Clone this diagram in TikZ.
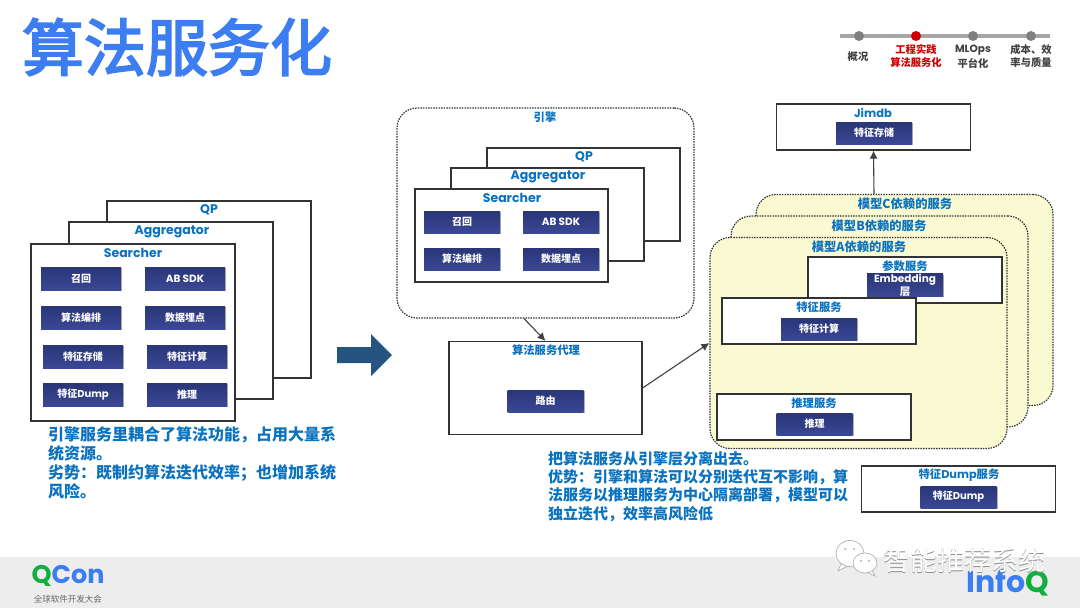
\documentclass[tikz,border=0pt]{standalone}
\usepackage{fontspec}
\usetikzlibrary{shadows,arrows.meta}
\setmainfont{Noto Sans CJK SC}
\newfontfamily\lat{Poppins}
\newfontfamily\titlefont{Noto Sans CJK SC}[FakeBold=3]
\definecolor{qblue}{HTML}{3C7DF2}
\definecolor{qgreen}{HTML}{12AE3F}
\definecolor{labblue}{HTML}{0A72BE}
\definecolor{navyup}{HTML}{2A3678}
\definecolor{navydown}{HTML}{3A4794}
\definecolor{modelfill}{HTML}{FAFAD2}
\definecolor{arrowblue}{HTML}{24547F}
\tikzset{
    boxline/.style={draw=black!80,fill=white,line width=1.2pt,inner sep=0pt},
    bigstack/.style={boxline,minimum width=204pt,minimum height=177pt},
    smallstack/.style={boxline,minimum width=193pt,minimum height=93pt},
    srvbox/.style={boxline,minimum width=194pt,minimum height=46pt},
    dotbox/.style={draw=black!80,line width=1.2pt,dash pattern=on 1.5pt off 1.1pt,rounded corners=20pt,inner sep=0pt},
    modelbox/.style={dotbox,fill=modelfill,minimum width=297pt,minimum height=211pt},
    btn/.style={top color=navyup,bottom color=navydown,text=white,inner sep=0pt,align=center,
        font=\bfseries\fontsize{10}{13}\selectfont,minimum width=76pt,minimum height=22pt,
        drop shadow={shadow xshift=1pt,shadow yshift=-1pt,fill=black,opacity=.3}},
    bigbtn/.style={btn,minimum width=80pt,minimum height=23pt},
    lab/.style={text=labblue,inner sep=0pt,font=\bfseries\fontsize{11.3}{13}\selectfont},
    latlab/.style={lab,font=\lat\bfseries\fontsize{12.5}{14}\selectfont},
    modellab/.style={lab,font=\bfseries\fontsize{12.3}{14}\selectfont},
    para/.style={text=labblue,inner sep=0pt,anchor=north west,align=left},
    navtext/.style={inner sep=0pt,text=black!75,font=\bfseries\fontsize{10.3}{11}\selectfont},
    navdot/.style={circle,fill=black!50,minimum size=10pt,inner sep=0pt},
    conn/.style={draw=black!75,line width=1.1pt,-{Latex[length=8pt,width=8pt]}},
}
\begin{document}
\begin{tikzpicture}[x=1pt,y=-1pt]
    \useasboundingbox (0,0) rectangle (1080,608);
    \fill[black!7] (0,557) rectangle (1080,608);

    \node[text=qblue,inner sep=0pt,font=\titlefont\fontsize{62}{62}\selectfont] (title) at (177,47) {算法服务化};

    \draw[black!35,line width=4.5pt] (840,36) -- (1050,36);
    \node[navdot] (nav1) at (859,36) {};
    \node[navdot,fill=red!80!black] (nav2) at (916,36) {};
    \node[navdot] (nav3) at (973,36) {};
    \node[navdot] (nav4) at (1031,36) {};
    \node[navtext] (navt1) at (858,57) {概况};
    \node[navtext,text=red!80!black] (navt2) at (916,50) {工程实践};
    \node[navtext,text=red!80!black] (navt3) at (916,63) {算法服务化};
    \node[navtext,font=\lat\bfseries\fontsize{10.5}{11}\selectfont] (navt4) at (973,50) {MLOps};
    \node[navtext] (navt5) at (973,63) {平台化};
    \node[navtext] (navt6) at (1031,50) {成本、效};
    \node[navtext] (navt7) at (1031,63) {率与质量};

    \node[bigstack] (lqp) at (209,289.5) {};
    \node[latlab] (lqpt) at (209,209.5) {QP};
    \node[bigstack] (lagg) at (171,310.5) {};
    \node[latlab] (laggt) at (172,231.5) {Aggregator};
    \node[bigstack] (lsea) at (133,332.5) {};
    \node[latlab] (lseat) at (133,253) {Searcher};
    \node[bigbtn] (lb1) at (81,278.5) {召回};
    \node[bigbtn,font=\lat\bfseries\fontsize{10.5}{11}\selectfont] (lb2) at (185,278.5) {AB SDK};
    \node[bigbtn] (lb3) at (81,317.5) {算法编排};
    \node[bigbtn] (lb4) at (185,317.5) {数据埋点};
    \node[bigbtn] (lb5) at (83,356.5) {特征存储};
    \node[bigbtn] (lb6) at (187,356.5) {特征计算};
    \node[bigbtn] (lb7) at (83,394.5) {特征{\lat Dump}};
    \node[bigbtn] (lb8) at (187,394.5) {推理};
    \node[para,font=\bfseries\fontsize{16}{19.2}\selectfont] (ltext) at (48,426)
        {引擎服务里耦合了算法功能，占用大量系\\统资源。\\劣势：既制约算法迭代效率；也增加系统\\风险。};

    \fill[arrowblue] (337,347) -- (371,347) -- (371,334) -- (392,355) -- (371,376) -- (371,363) -- (337,363) -- cycle;

    \node[dotbox,minimum width=297pt,minimum height=210pt] (engine) at (545.5,213) {};
    \node[lab] (enginet) at (545,117) {引擎};
    \node[smallstack] (mqp) at (583.5,194.5) {};
    \node[latlab] (mqpt) at (584,156.5) {QP};
    \node[smallstack] (magg) at (547.5,214.5) {};
    \node[latlab] (maggt) at (548,177) {Aggregator};
    \node[smallstack] (msea) at (511.5,235.5) {};
    \node[latlab] (mseat) at (512,198) {Searcher};
    \node[btn] (mb1) at (462,222) {召回};
    \node[btn,font=\lat\bfseries\fontsize{10.5}{11}\selectfont] (mb2) at (561,222) {AB SDK};
    \node[btn] (mb3) at (462,259) {算法编排};
    \node[btn] (mb4) at (561,259) {数据埋点};

    \node[smallstack] (proxy) at (545.5,388) {};
    \node[lab] (proxyt) at (546,350) {算法服务代理};
    \node[btn] (route) at (545.5,401) {路由};
    \node[para,font=\bfseries\fontsize{15}{18.4}\selectfont] (mtext) at (548,451)
        {把算法服务从引擎层分离出去。\\优势：引擎和算法可以分别迭代互不影响，算\\法服务以推理服务为中心隔离部署，模型可以\\独立迭代，效率高风险低};

    \node[srvbox] (jimdb) at (873.5,127) {};
    \node[latlab,font=\lat\bfseries\fontsize{11.5}{13}\selectfont] (jimdbt) at (873,113) {Jimdb};
    \node[btn] (jimdbb) at (874,133) {特征存储};

    \node[modelbox] (modelc) at (904.5,300) {};
    \node[modellab] (modelct) at (905,204) {模型C依赖的服务};
    \node[modelbox] (modelb) at (879.5,321.5) {};
    \node[modellab] (modelbt) at (879,226) {模型B依赖的服务};
    \node[modelbox] (modela) at (858.5,343) {};
    \node[modellab] (modelat) at (859,247) {模型A依赖的服务};

    \node[srvbox] (param) at (905,280) {};
    \node[lab] (paramt) at (905,266) {参数服务};
    \node[btn,font=\lat\bfseries\fontsize{10.5}{13}\selectfont] (parambtn) at (905,285) {Embedding\\\rmfamily 层};
    \node[srvbox] (feat) at (819,321) {};
    \node[lab] (featt) at (819,307) {特征服务};
    \node[btn] (featb) at (819,329) {特征计算};
    \node[srvbox] (infer) at (814,417) {};
    \node[lab] (infert) at (814,403) {推理服务};
    \node[btn] (inferb) at (814.5,424) {推理};
    \node[srvbox] (dump) at (958.5,489) {};
    \node[lab] (dumpt) at (959,475) {特征{\lat Dump}服务};
    \node[btn] (dumpb) at (958.5,497) {特征{\lat Dump}};

    \draw[conn] ([xshift=-21.5pt]engine.south) -- (proxy.north);
    \draw[conn] (proxy.east) -- (modela.west);
    \draw[conn] ([xshift=-30.5pt]modelc.north) -- (jimdb.south);

    \node[inner sep=0pt,font=\lat\bfseries\fontsize{25.5}{26}\selectfont] (qcon) at (68,576) {\textcolor{qgreen}{Q}\textcolor{qblue}{Con}};
    \node[inner sep=0pt,text height=6.5pt,text depth=.5pt,text=black!60,font=\fontsize{8.5}{9}\selectfont] (qcont) at (68,599) {全球软件开发大会};
    \node[inner sep=0pt,font=\lat\bfseries\fontsize{30}{30}\selectfont] (infoq) at (1008,583) {\textcolor{qblue}{Info}\textcolor{qgreen}{Q}};

    \begin{scope}[draw=black!30,fill=white,line width=.7pt]
        \filldraw (841,564) -- (838,571) -- (848,566) -- cycle;
        \filldraw (850,553.5) ellipse (14pt and 13pt);
        \filldraw (872,570) -- (875,576) -- (866,572) -- cycle;
        \filldraw (865,563) ellipse (12pt and 10pt);
    \end{scope}
    \fill[black!35] (845,549) circle (1pt) (854,549) circle (1pt) (861,561) circle (1pt) (869,561) circle (1pt);
    \node[inner sep=0pt,text=black!45,font=\fontsize{27}{28}\selectfont] (wmshade) at (964.7,560.7) {智能推荐系统};
    \node[inner sep=0pt,text=white,font=\fontsize{27}{28}\selectfont] (wmtext) at (964,560) {智能推荐系统};
\end{tikzpicture}
\end{document}
